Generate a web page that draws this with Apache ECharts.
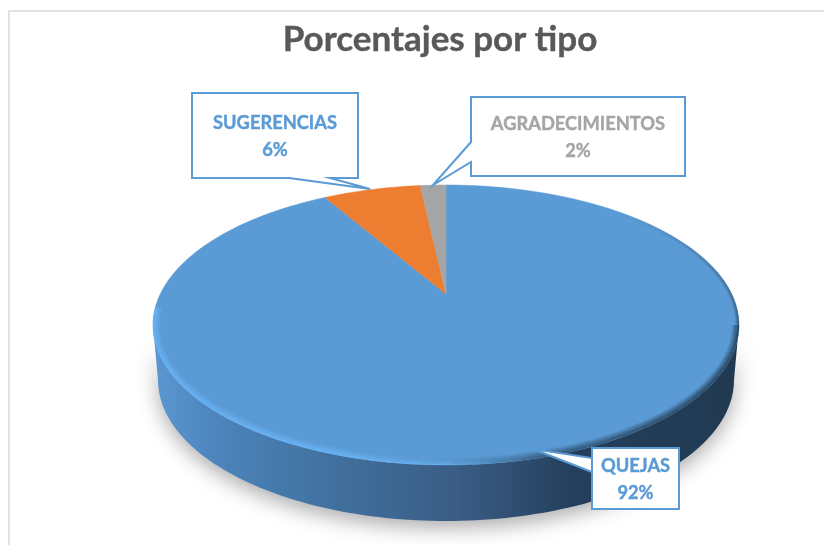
<!DOCTYPE html>
<html><head><meta charset="utf-8">
<style>html,body{margin:0;padding:0;background:#fff}#c{width:824px;height:545px}</style>
<script src="https://cdn.jsdelivr.net/npm/echarts@6/dist/echarts.min.js"></script>
</head><body><div id="c"></div>
<script>
const categories = ['QUEJAS', 'SUGERENCIAS', 'AGRADECIMIENTOS'];
const values = [92, 6.3, 1.7];
const colors = ['#5b9bd5', '#ed7d31', '#a5a5a5'];
const textColors = ['#5b9bd5', '#5b9bd5', '#a5a5a5'];

const cx = 446, cy = 325, rx = 293, ry = 140, apexY = 294, persp = 0.825;
const rxB = 288, ryB = 141, cyB = 380;
const callouts = [
  {box:[592,448,679,509], ptr:[[592,458],[533,449],[592,472]], side:'left'},
  {box:[192,93,358,178], ptr:[[330,178],[370,189],[289,178]], side:'bottom'},
  {box:[471,97,685,176], ptr:[[471,162],[433,185],[471,142]], side:'left'}
];
const total = values.reduce((a,b)=>a+b,0);
function pt(theta){
  const t = Math.atan2(persp*Math.sin(theta), Math.cos(theta));
  return [cx+rx*Math.sin(t), cy-ry*Math.cos(t)];
}
function arc(a0,a1,n,f){const r=[];for(let i=0;i<=n;i++){r.push(f(a0+(a1-a0)*i/n));}return r;}
function ell(t,ix,iy){return [cx+(rx-(ix||0))*Math.cos(t),cy+(ry-(iy||0))*Math.sin(t)];}

function renderSlice(params){
  const i = params.dataIndex;
  let before = 0; for(let k=0;k<i;k++) before += values[k];
  const a0 = before/total*Math.PI*2, a1 = (before+values[i])/total*Math.PI*2;
  const n = Math.max(4, Math.round(values[i]*3));
  const pts = [[cx,apexY]].concat(arc(a0,a1,n,pt));
  return {type:'polygon', shape:{points:pts}, style:{fill:colors[i], stroke:colors[i], lineWidth:0.5}};
}
function renderBody(){
  const bottom = arc(Math.PI,0,120,t=>[cx+rxB*Math.cos(t),cyB+ryB*Math.sin(t)]);
  const top = arc(0,Math.PI,120,t=>ell(t));
  return {type:'polygon', shape:{points:top.concat(bottom)}, style:{
    fill:{type:'linear',x:0,y:0,x2:1,y2:0,colorStops:[
      {offset:0,color:'#5b97d2'},{offset:0.12,color:'#4b83ba'},{offset:0.3,color:'#41719f'},
      {offset:0.52,color:'#3a5c85'},{offset:0.72,color:'#243f5c'},{offset:1,color:'#213a52'}]},
    shadowBlur:20, shadowColor:'rgba(0,0,0,0.32)', shadowOffsetY:7}};
}
// soft bevel: concentric strokes whose strength falls off inward from the rim
function band(a0,a1,rgb,strength,steps,stops,vertical){
  const out=[];
  for(let k=0;k<steps;k++){
    const inset=0.6+k*1.2, a=strength*(1-k/steps);
    out.push({type:'polyline', shape:{points:arc(a0,a1,140,t=>ell(t,inset,inset))},
      style:{fill:null,lineWidth:1.4,stroke:{type:'linear',x:0,y:0,x2:vertical?0:1,y2:vertical?1:0,
        colorStops:stops.map(s=>({offset:s[0],color:'rgba('+rgb+','+(a*s[1]).toFixed(3)+')'}))}}});
  }
  return out;
}
function renderRim(){
  return {type:'group', children:[].concat(
    band(Math.PI*0.62,0,'33,58,82',0.85,6,[[0,0],[0.3,0.6],[1,1]]),
    band(0,-Math.PI*0.3,'33,58,82',0.6,3,[[0,0],[1,1]],true),
    band(Math.PI*1.04,Math.PI*0.4,'104,178,244',0.95,6,[[0,1],[0.75,1],[1,0]])
  )};
}
function renderCallout(params){
  const i = params.dataIndex, c = callouts[i], b = c.box;
  let pts;
  if(c.side==='left') pts=[[b[0],b[1]],[b[2],b[1]],[b[2],b[3]],[b[0],b[3]]].concat(c.ptr);
  else pts=[[b[0],b[1]],[b[2],b[1]],[b[2],b[3]]].concat(c.ptr).concat([[b[0],b[3]]]);
  const mx=(b[0]+b[2])/2, ty=(b[1]+b[3])/2;
  const font='bold 18.3px Lato';
  const txt=(s,y)=>({type:'text', style:{x:mx,y:y,text:s,fill:textColors[i],stroke:textColors[i],lineWidth:0.4,align:'center',verticalAlign:'middle',font:font}});
  return {type:'group', children:[
    {type:'polygon', shape:{points:pts}, style:{fill:'#fff', stroke:'#5b9bd5', lineWidth:2}},
    txt(categories[i],ty-12),
    txt(Math.round(values[i])+'%',ty+14.5)
  ]};
}
const seriesData = categories.map((n,i)=>({name:n,value:values[i]}));
const chart = echarts.init(document.getElementById('c'),null,{renderer:'canvas'});
chart.setOption({
  animation:false,
  backgroundColor:'#fff',
  title:{text:'Porcentajes por tipo',left:435,top:17,textAlign:'center',
    textStyle:{fontFamily:'Lato',fontWeight:'bold',fontSize:35,color:'#595959',textBorderColor:'#595959',textBorderWidth:0.4}},
  graphic:[{type:'rect',shape:{x:9,y:11,width:900,height:600},style:{fill:null,stroke:'#d9d9d9',lineWidth:1.5},silent:true}],
  series:[
    {type:'custom',silent:true,coordinateSystem:'none',data:[{name:'body',value:total}],renderItem:renderBody,z:1},
    {type:'custom',name:'Porcentajes',silent:true,coordinateSystem:'none',data:seriesData,renderItem:renderSlice,z:2},
    {type:'custom',silent:true,coordinateSystem:'none',data:[{name:'rim',value:total}],renderItem:renderRim,z:3},
    {type:'custom',silent:true,coordinateSystem:'none',data:seriesData,renderItem:renderCallout,z:4}
  ]
});
</script></body></html>
